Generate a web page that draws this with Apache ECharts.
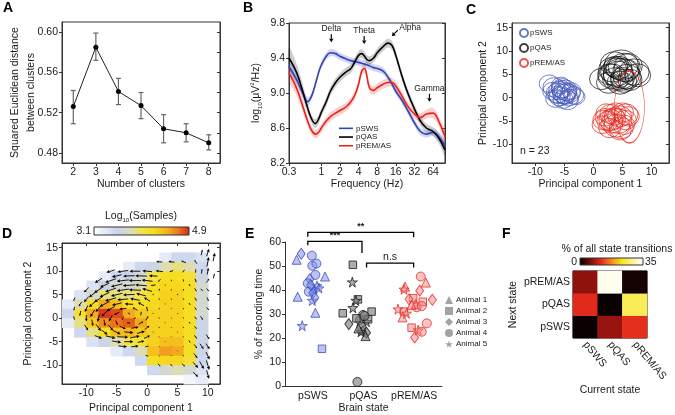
<!DOCTYPE html>
<html><head><meta charset="utf-8">
<script src="https://cdn.jsdelivr.net/npm/echarts@6/dist/echarts.min.js"></script>
<style>html,body{margin:0;padding:0;background:#fff}#c{width:675px;height:415px}</style>
</head><body><div id="c"></div>
<script>
// ---------- A ----------
const aClusters = [2,3,4,5,6,7,8];
const aMean = [0.526,0.585,0.541,0.527,0.504,0.500,0.490];
const aLow  = [0.509,0.572,0.528,0.514,0.490,0.491,0.483];
const aHigh = [0.542,0.599,0.554,0.540,0.518,0.509,0.498];
const aYTicks = [0.48,0.52,0.56,0.60];
const aYMinor = [0.48,0.50,0.52,0.54,0.56,0.58,0.60];
// ---------- B ----------
const bFreq = [0.3,0.4,0.5,0.6,0.7,0.8,0.9,1,1.2,1.4,1.7,2,2.5,3,3.5,4,4.5,5,5.5,6,7,8,10,12,14,16,20,25,32,40,50,64,80,100];
const bSWS = [9.30,9.15,9.00,8.90,8.97,9.10,9.23,9.32,9.42,9.46,9.45,9.42,9.39,9.37,9.36,9.35,9.34,9.33,9.32,9.31,9.29,9.28,9.25,9.18,9.10,9.02,8.92,8.80,8.66,8.56,8.53,8.55,8.50,8.40];
const bQAS = [9.40,9.23,9.02,8.83,8.70,8.65,8.70,8.78,8.90,9.02,9.12,9.18,9.24,9.28,9.36,9.43,9.45,9.42,9.38,9.37,9.40,9.46,9.53,9.57,9.54,9.43,9.20,9.00,8.82,8.68,8.60,8.56,8.48,8.35];
const bREM = [9.23,9.05,8.85,8.68,8.57,8.53,8.55,8.60,8.68,8.73,8.77,8.80,8.84,8.90,8.98,9.10,9.25,9.28,9.18,9.06,9.03,9.06,9.10,9.12,9.12,9.08,8.97,8.85,8.76,8.72,8.76,8.77,8.67,8.50];
const bSWSErr = [0.07,0.06,0.05,0.05,0.04,0.04,0.04,0.04,0.04,0.04,0.04,0.04,0.04,0.04,0.04,0.04,0.04,0.04,0.04,0.04,0.04,0.04,0.04,0.04,0.04,0.04,0.04,0.04,0.04,0.04,0.04,0.04,0.05,0.06];
const bQASErr = [0.12,0.10,0.08,0.06,0.05,0.05,0.05,0.05,0.05,0.05,0.05,0.05,0.05,0.05,0.05,0.05,0.05,0.05,0.05,0.05,0.05,0.05,0.05,0.05,0.05,0.05,0.05,0.05,0.05,0.05,0.05,0.05,0.06,0.07];
const bREMErr = [0.09,0.08,0.07,0.06,0.05,0.05,0.05,0.05,0.05,0.05,0.05,0.05,0.05,0.05,0.05,0.05,0.05,0.05,0.05,0.05,0.05,0.05,0.05,0.05,0.05,0.05,0.05,0.05,0.05,0.05,0.05,0.06,0.06,0.07];
const bXTicks = [0.3,1,2,4,8,16,32,64];
const bYTicks = [8.2,8.6,9.0,9.4,9.8];
const bAnnLabel = ['Delta','Theta','Alpha','Gamma'];
const bAnnFreq = [1.45,4.93,13.8,56];
const bAnnValue = [9.58,9.56,9.65,8.90];
const bAnnTilt = [0,0,1,0];
// ---------- C ----------
const cSWS = [[-7.6,3.0,20],[-6.8,2.2,22],[-5.5,1.8,20],[-5.0,0.8,22],[-4.6,1.2,20],[-5.8,0.2,21],[-4.2,0.0,19],[-3.4,0.5,20],[-6.2,1.0,22],[-5.2,-0.4,20],[-4.8,1.6,23],[-3.8,1.4,19],[-6.5,-0.2,20],[-5.6,2.6,19],[-4.4,-0.6,21],[-3.0,0.2,18],[-7.0,1.4,20],[-5.9,1.5,21],[-4.9,0.3,19],[-5.3,2.0,22],[-6.1,0.6,20],[-4.0,0.9,20],[-5.0,1.0,24]];
const cQAS = [[4.3,5.0,30],[3.3,6.0,28],[5.3,6.5,32],[3.8,4.0,26],[5.8,4.5,28],[1.4,4.0,24],[4.8,7.0,34],[2.8,5.0,24],[7.0,5.5,30],[4.6,3.2,26],[5.6,5.8,26],[3.6,7.2,28],[6.3,3.8,24],[4.0,5.5,32],[5.0,4.2,24],[7.6,4.8,26],[2.6,3.2,24],[4.4,6.4,26],[3.2,4.6,28],[6.0,6.8,28],[5.2,3.6,26],[3.8,6.6,24],[4.8,5.0,36]];
const cREM = [[3.5,-4.5,24],[2.5,-5.0,22],[4.5,-4.0,24],[3.0,-3.5,22],[5.5,-4.8,22],[2.0,-4.2,20],[4.0,-6.0,26],[3.2,-5.5,22],[5.0,-3.2,22],[1.5,-5.8,20],[4.8,-6.5,24],[3.8,-3.0,20],[2.8,-6.5,22],[6.0,-4.0,22],[4.2,-5.0,28],[3.0,-4.8,24],[5.2,-5.8,22],[2.2,-3.2,20],[4.6,-7.0,22],[3.6,-4.0,20],[1.8,-4.8,22],[5.6,-3.6,24],[6.2,-2.0,30,72]];
const pcTicksX = [-10,-5,0,5,10];
const pcTicksY = [-10,-5,0,5,10,15];
// ---------- D ----------
const dBinX = [-13,-11,-9,-7,-5,-3,-1,1,3,5,7,9,11];
const dBinY = [15,13,11,9,7,5,3,1,-1,-3,-5,-7,-9,-11,-13];
const n = null;
const dDensity = [
 [n,n,n,n,n,n,n,n,n,n,n,n,n],
 [n,n,n,n,n,n,n,n,3.3,3.5,3.5,3.4,n],
 [n,n,n,n,n,3.3,3.5,3.6,3.8,3.9,3.8,3.5,n],
 [n,n,n,3.3,3.5,3.6,3.7,4.0,4.2,4.2,4.1,3.6,n],
 [n,n,3.4,3.6,3.7,3.7,3.8,4.2,4.25,4.25,4.2,3.7,n],
 [n,3.4,3.7,3.9,3.9,3.9,4.0,4.2,4.3,4.3,4.2,3.7,n],
 [3.3,3.8,4.2,4.5,4.4,4.2,4.2,4.25,4.3,4.3,4.2,3.7,n],
 [3.5,4.1,4.5,4.85,4.8,4.5,4.35,4.3,4.3,4.3,4.2,3.7,n],
 [3.3,3.9,4.35,4.6,4.7,4.75,4.5,4.3,4.3,4.3,4.2,3.6,n],
 [n,3.5,3.9,4.2,4.4,4.45,4.35,4.3,4.3,4.3,4.2,3.6,n],
 [n,n,3.4,3.6,3.8,4.0,4.1,4.3,4.4,4.4,4.2,3.6,n],
 [n,n,n,n,3.3,3.5,3.8,4.4,4.55,4.5,4.2,3.6,n],
 [n,n,n,n,n,n,3.5,4.2,4.25,4.25,4.1,3.5,n],
 [n,n,n,n,n,n,n,3.5,3.7,3.8,3.7,3.4,n],
 [n,n,n,n,n,n,n,n,n,n,3.2,3.3,n]
];
const dArrows = [
 [9,14,0.2,1.2],[10,14,0.4,1.6],[11,13,0.3,1.8],[11,9,0.2,1.0],
 [2,12,-1.0,0.1],[4,12,-1.0,0.2],[6,12,-0.8,0.4],[8,12,-0.4,0.8],[10,12,0.3,2.0],
 [-6,10,-1.4,-0.6],[-4,10,-1.8,-0.3],[-2,10,-1.8,0],[0,10,-1.6,0.2],[2,10,-1.2,0.2],[4,10,-0.6,-0.3],[6,10,-0.3,-0.6],[8,10,0,-0.8],[10,10,0.2,1.4],
 [-5,9,-1.6,-0.5],[-3,9,-1.9,-0.1],[-1,9,-1.9,0.1],[1,9,-1.4,0.1],[9,10,0.1,1.0],
 [-8,8,-1.2,-1.0],[-6,8,-1.8,-0.8],[-4,8,-2,-0.3],[-2,8,-2,0],[0,8,-1.8,0.3],[2,8,-0.4,-0.6],[4,8,0,-0.4],[6,8,0.1,-0.5],[8,8,0.2,-0.8],[10,8,0.5,0.8],
 [-7,7,-1.5,-0.9],[-5,7,-1.9,-0.6],[-3,7,-2,-0.2],[-1,7,-1.9,0.2],[1,7,-0.8,-0.2],[3,7,0.05,-0.3],[7,7,0.2,-0.5],
 [-10,6,-0.8,-1.0],[-8,6,-1.4,-1.2],[-6,6,-1.8,-0.8],[-4,6,-2,-0.4],[-2,6,-2,0.1],[0,6,-1.6,0.6],[2,6,0,-0.5],[4,6,0.05,-0.3],[6,6,0.1,-0.4],[8,6,0.3,-0.7],[10,6,0.4,-0.6],[9,6,0.3,-0.5],
 [-9,5,-1.1,-1.1],[-7,5,-1.6,-1.0],[-5,5,-1.9,-0.6],[-3,5,-1.9,-0.1],[-1,5,-1.6,0.5],[1,5,0,-0.35],[5,5,0.05,-0.3],
 [-12,4,-0.3,-0.8],[-10,4,-0.8,-1.2],[-8,4,-1.4,-1.2],[-6,4,-1.8,-0.7],[-4,4,-1.8,-0.2],[-2,4,-1.6,0.4],[0,4,-1,0.8],[2,4,0.05,-0.4],[4,4,0.05,-0.3],[6,4,0.1,-0.4],[8,4,0.3,-0.7],[10,4,0.3,-0.8],
 [-11,3,-0.5,-1.0],[-9,3,-1.1,-1.3],[-7,3,-1.6,-1.1],[-5,3,-1.6,-0.5],[-3,3,-1.4,0.1],[-1,3,-1.0,0.7],[3,3,0.05,-0.25],[7,3,0.2,-0.5],
 [-12,2,-0.1,-0.8],[-10,2,-0.5,-1.4],[-8,2,-1,-1.4],[-6,2,-1.4,-1],[-4,2,-1.2,-0.2],[-2,2,-0.8,0.6],[0,2,-0.2,1.0],[2,2,0.05,-0.3],[4,2,0.05,-0.2],[6,2,0.1,-0.3],[8,2,0.3,-0.6],[10,2,0.4,-0.6],
 [-11,1,-0.2,-1.1],[-9,1,-0.7,-1.5],[-7,1,-1.0,-1.3],[-5,1,-0.9,-0.6],[-3,1,-0.4,0.3],[-1,1,0.1,0.8],[1,1,0.05,-0.25],[5,1,0.05,-0.2],
 [-12,0,0.2,-0.8],[-10,0,0,-1.4],[-8,0,-0.3,-1.6],[-6,0,-0.6,-1.4],[-4,0,-0.3,-0.8],[-2,0,0.4,0.2],[0,0,0.4,0.9],[2,0,0.1,-0.3],[4,0,0.05,-0.2],[6,0,0.1,-0.3],[8,0,0.3,-0.6],[9,0,0.4,-0.8],
 [-9,-1,0.2,-1.4],[-7,-1,0.2,-1.4],[-5,-1,0.3,-1.0],[-3,-1,0.6,-0.1],[-1,-1,0.8,0.6],[3,-1,0.05,-0.2],[7,-1,0.2,-0.4],
 [-10,-2,0.6,-1.2],[-8,-2,0.8,-1.4],[-6,-2,0.8,-1.2],[-4,-2,1.0,-0.6],[-2,-2,1.2,0.3],[0,-2,0.8,0.8],[2,-2,0.1,-0.3],[4,-2,0.05,-0.2],[6,-2,0.1,-0.3],[8,-2,0.4,-0.6],
 [-7,-3,1.0,-1.0],[-5,-3,1.3,-0.8],[-3,-3,1.5,-0.2],[-1,-3,1.3,0.5],[1,-3,0.05,-0.2],[5,-3,0.05,-0.2],
 [-8,-4,1.2,-0.6],[-6,-4,1.6,-0.5],[-4,-4,1.8,-0.1],[-2,-4,1.6,0.4],[0,-4,1.0,0.6],[2,-4,0.1,-0.2],[4,-4,0.05,-0.15],[6,-4,0.1,-0.25],[8,-4,0.4,-0.7],[10,-4,0.5,-1.0],
 [-5,-5,1.5,-0.3],[-3,-5,1.5,0.0],[-1,-5,1.1,0.3],[3,-5,0.05,-0.15],[7,-5,0.25,-0.5],
 [-4,-6,1.4,-0.2],[-2,-6,1.2,0.2],[0,-6,0.6,0.2],[2,-6,0.1,-0.15],[4,-6,0.05,-0.1],[6,-6,0.1,-0.2],[8,-6,0.5,-0.8],[10,-6,0.6,-1.2],[9,-6,0.6,-1.1],
 [5,-7,0.05,-0.15],
 [0,-8,0.5,-0.2],[2,-8,0.2,-0.2],[4,-8,0.1,-0.2],[6,-8,0.2,-0.3],[8,-8,0.6,-1.0],[10,-8,0.6,-1.6],
 [2,-10,0.4,-0.6],[4,-10,0.3,-0.5],[6,-10,0.5,-0.6],[8,-10,0.8,-1.2],[10,-10,0.5,-2.0],[9,-10,0.7,-1.6],
 [8,-12,0.8,-1.0],[10,-12,0.4,-1.8]
];
const dScaleLabels = ['3.1','4.9'];
// ---------- E ----------
const eStates = ['pSWS','pQAS','pREM/AS'];
const eAnimals = ['Animal 1','Animal 2','Animal 3','Animal 4','Animal 5'];
const eSWS = [[-0.23,55.1,3],[-0.32,52.6,1],[-0.02,54.3,4],[-0.01,50.1,4],[0.07,51.0,4],[0.05,46.3,4],[0.24,45.6,1],[-0.06,44.5,3],[-0.10,42.8,4],[0.08,41.7,5],[0.02,40.3,5],[-0.08,39.3,4],[0.0,38.7,3],[-0.30,37.2,1],[-0.01,35.6,5],[0.05,30.5,1],[-0.21,25.1,5],[0.18,15.5,2],[-0.04,42.0,3],[0.04,36.8,3],[0.12,40.8,5]];
const eQAS = [[0.79,50.5,2],[0.78,43.3,5],[0.89,36.1,2],[0.85,35.6,5],[0.79,32.6,5],[1.16,31.0,2],[0.59,30.3,2],[0.99,29.6,4],[0.93,27.5,4],[0.86,28.2,2],[1.06,26.8,5],[0.71,25.8,3],[0.99,23.3,1],[0.96,24.7,4],[1.06,22.2,3],[1.04,20.8,1],[0.95,22.6,5],[0.88,1.7,4],[1.09,27.8,2],[0.90,24.0,1],[1.02,29.2,4]];
const eREM = [[1.82,41.4,1],[1.80,40.3,5],[2.13,45.6,4],[2.23,43.1,1],[2.11,39.7,3],[2.36,35.9,3],[1.98,36.6,2],[1.90,36.1,3],[2.17,35.1,2],[2.03,34.2,1],[2.05,32.8,4],[2.15,33.3,4],[1.95,33.8,1],[1.68,32.0,5],[1.80,31.0,2],[1.77,28.6,1],[1.85,30.3,5],[1.95,24.3,2],[2.01,20.2,3],[2.08,23.3,5],[2.15,22.6,4],[2.25,26.1,4]];
const eBrackets = [[-0.1,0.97,60.3,58.6,55.4],[-0.1,1.99,64.0,62.2,62.0],[1.06,1.99,51.2,49.4,49.4]];
const eBracketLabels = ['***','**','n.s'];
// ---------- F ----------
const fStates = ['pSWS','pQAS','pREM/AS'];
const fMatrix = [ // rows: next state (pSWS, pQAS, pREM/AS); cols: current state
 [0.5, 7.5, 12.2],
 [11.8, 0.5, 26],
 [7, 34, 1]
];
const fScaleLabels = ['0','35'];

// ---------- build ----------
const FONT = '"Liberation Sans", Arial, sans-serif';
const TXT = '#1a1a1a';
const dColors = ['#ffffff','#e4e9f6','#c8d3ee','#d9dcc2','#f3e34a','#f6dd1e','#f5b81e','#ee7c1c','#d7261c'];
const fColors = ['#000000','#7a0d0a','#e3271b','#f38b1c','#f8e71e','#fbf39a','#ffffff'];
const axisLine = {show:true, onZero:false, lineStyle:{color:'#333', width:1}};
function baseAxis(extra){
  return Object.assign({
    axisLine: axisLine,
    axisTick: {show:true, length:3, lineStyle:{color:'#333'}},
    axisLabel: {color:TXT, fontSize:10.5, margin:4},
    splitLine: {show:false},
    nameLocation:'middle',
    nameTextStyle:{color:TXT, fontSize:10.5}
  }, extra);
}
function mirrorY(grid, min, max, ticks){
  return {type:'value', gridIndex:grid, position:'right', min:min, max:max,
    axisLine:axisLine, axisTick:{show:true, inside:true, length:3, customValues:ticks, lineStyle:{color:'#333'}},
    axisLabel:{show:false}, splitLine:{show:false}};
}
function gradient(colors){
  return new echarts.graphic.LinearGradient(0,0,1,0, colors.map((c,i)=>({offset:i/(colors.length-1), color:c})));
}
const starPath = 'path://M50,0 L61,35 L98,35 L68,57 L79,91 L50,70 L21,91 L32,57 L2,35 L39,35 Z';
const eSymbols = ['triangle','rect','diamond','circle',starPath];
const eSizes = [9,7.5,[8,11],9,10];
const stateColors = {
  sws:{fill:'rgba(125,142,228,0.65)', line:'#3f4fbf'},
  qas:{fill:'rgba(125,125,125,0.8)', line:'#1a1a1a'},
  rem:{fill:'rgba(247,130,130,0.6)', line:'#e52a22'}
};
function ePoints(arr){
  return arr.map(p => ({value:[p[0],p[1]], symbol:eSymbols[p[2]-1], symbolSize:eSizes[p[2]-1]}));
}
function bandSeries(vals, errs, color){
  return {type:'custom', xAxisIndex:1, yAxisIndex:1, silent:true, z:1,
    data: bFreq.map((f,i)=>[f, vals[i]-errs[i], vals[i]+errs[i]]),
    renderItem:(p, api)=>{
      if (p.dataIndex !== 0) return null;
      const up = bFreq.map((f,i)=>api.coord([f, vals[i]+errs[i]]));
      const lo = bFreq.map((f,i)=>api.coord([f, vals[i]-errs[i]])).reverse();
      return {type:'polygon', shape:{points: up.concat(lo), smooth:0.35}, style:{fill:color}};
    }};
}
const dCells = [];
dBinY.forEach((y,r)=>dBinX.forEach((x,c)=>{ const v=dDensity[r][c]; if(v!==null) dCells.push([x,y,v]); }));
const fData = [];
fMatrix.forEach((row,r)=>row.forEach((v,c)=>fData.push([c,r,v])));

function circleSeries(name, arr, color){
  return {type:'scatter', name:name, xAxisIndex:2, yAxisIndex:2, data:arr, symbol:'circle',
    symbolSize: v => [v[2], v[3] || v[2]*0.88],
    itemStyle:{color:'transparent', borderColor:color, borderWidth:0.9}, silent:true};
}
function lineSeries(name, vals, color){
  return {type:'line', name:name, xAxisIndex:1, yAxisIndex:1, data:bFreq.map((f,i)=>[f,vals[i]]), smooth:0.4,
    symbol:'none', lineStyle:{color:color, width:1.6}, itemStyle:{color:color}, z:3};
}

const series = [
  // 0 A line
  {type:'line', xAxisIndex:0, yAxisIndex:0, data:aClusters.map((x,i)=>[x,aMean[i]]), symbol:'circle', symbolSize:5,
   itemStyle:{color:'#000'}, lineStyle:{color:'#222', width:1}, z:4},
  // 1 A error bars
  {type:'custom', xAxisIndex:0, yAxisIndex:0, data:aClusters.map((x,i)=>[x,aLow[i],aHigh[i]]), z:3,
   renderItem:(p,api)=>{ const lo=api.coord([api.value(0),api.value(1)]), hi=api.coord([api.value(0),api.value(2)]);
     const st={stroke:'#666', lineWidth:1.2};
     return {type:'group', children:[
       {type:'line', shape:{x1:lo[0],y1:lo[1],x2:hi[0],y2:hi[1]}, style:st},
       {type:'line', shape:{x1:lo[0]-2.5,y1:lo[1],x2:lo[0]+2.5,y2:lo[1]}, style:st},
       {type:'line', shape:{x1:hi[0]-2.5,y1:hi[1],x2:hi[0]+2.5,y2:hi[1]}, style:st}]}; }},
  // 2-4 B bands
  bandSeries(bQAS, bQASErr, 'rgba(0,0,0,0.2)'),
  bandSeries(bSWS, bSWSErr, 'rgba(70,90,210,0.25)'),
  bandSeries(bREM, bREMErr, 'rgba(235,50,40,0.22)'),
  // 5-7 B lines
  lineSeries('pSWS', bSWS, '#3444b0'),
  lineSeries('pQAS', bQAS, '#000000'),
  lineSeries('pREM/AS', bREM, '#e8231d'),
  // 8 B annotations
  {type:'custom', xAxisIndex:1, yAxisIndex:1, clip:false, z:5, data:bAnnFreq.map((f,i)=>[f,bAnnValue[i]]),
   renderItem:(p,api)=>{ const i=p.dataIndex; const tip=api.coord([api.value(0),api.value(1)]);
     const tilt=bAnnTilt[i]; const tail= tilt ? [tip[0]+6,tip[1]-6] : [tip[0],tip[1]-8];
     const dx=tip[0]-tail[0], dy=tip[1]-tail[1], L=Math.hypot(dx,dy), ux=dx/L, uy=dy/L, h=3.5, w=2.2;
     const b=[tip[0]-ux*h, tip[1]-uy*h];
     const txt = tilt ? {type:'text', style:{text:bAnnLabel[i], x:tail[0]+1.5, y:tail[1]-2, align:'left', verticalAlign:'middle', fontSize:8.5, fill:TXT, fontFamily:FONT}}
                      : {type:'text', style:{text:bAnnLabel[i], x:tail[0], y:tail[1]-1, align:'center', verticalAlign:'bottom', fontSize:8.5, fill:TXT, fontFamily:FONT}};
     return {type:'group', children:[
       {type:'line', shape:{x1:tail[0],y1:tail[1],x2:b[0],y2:b[1]}, style:{stroke:'#000', lineWidth:1.2}},
       {type:'polygon', shape:{points:[tip,[b[0]-uy*w,b[1]+ux*w],[b[0]+uy*w,b[1]-ux*w]]}, style:{fill:'#000'}},
       txt]}; }},
  // 9-11 C circles
  circleSeries('C pSWS', cSWS, '#4254b8'),
  circleSeries('C pQAS', cQAS, '#111111'),
  circleSeries('C pREM/AS', cREM, '#e8281e'),
  // 12 D heatmap
  {type:'custom', xAxisIndex:3, yAxisIndex:3, data:dCells, encode:{x:0,y:1}, z:1, silent:true,
   renderItem:(p,api)=>{ const x=api.value(0), y=api.value(1); const p0=api.coord([x-1,y+1]), p1=api.coord([x+1,y-1]);
     return {type:'rect', shape:{x:p0[0],y:p0[1],width:p1[0]-p0[0]+0.6,height:p1[1]-p0[1]+0.6}, style:{fill:api.visual('color')}}; }},
  // 13 D arrows
  {type:'custom', xAxisIndex:3, yAxisIndex:3, data:dArrows, encode:{x:0,y:1}, z:2, silent:true,
   renderItem:(p,api)=>{ const x=api.value(0), y=api.value(1), u=api.value(2), v=api.value(3);
     const p0=api.coord([x-u/2,y-v/2]), p1=api.coord([x+u/2,y+v/2]);
     const dx=p1[0]-p0[0], dy=p1[1]-p0[1]; const L=Math.hypot(dx,dy)||1; const ux=dx/L, uy=dy/L;
     const h=Math.min(3.2, L*0.4), w=h*0.5; const b=[p1[0]-ux*h, p1[1]-uy*h];
     return {type:'group', children:[
       {type:'line', shape:{x1:p0[0],y1:p0[1],x2:b[0],y2:b[1]}, style:{stroke:'#000', lineWidth:0.9}},
       {type:'polygon', shape:{points:[p1,[b[0]-uy*w,b[1]+ux*w],[b[0]+uy*w,b[1]-ux*w]]}, style:{fill:'#000'}}]}; }},
  // 14-16 E points
  {type:'scatter', name:'e1', xAxisIndex:4, yAxisIndex:4, data:ePoints(eSWS), itemStyle:{color:stateColors.sws.fill, borderColor:stateColors.sws.line, borderWidth:1}},
  {type:'scatter', name:'e2', xAxisIndex:4, yAxisIndex:4, data:ePoints(eQAS), itemStyle:{color:stateColors.qas.fill, borderColor:stateColors.qas.line, borderWidth:1}},
  {type:'scatter', name:'e3', xAxisIndex:4, yAxisIndex:4, data:ePoints(eREM), itemStyle:{color:stateColors.rem.fill, borderColor:stateColors.rem.line, borderWidth:1}},
  // 17 E brackets
  {type:'custom', xAxisIndex:4, yAxisIndex:4, clip:false, data:eBrackets,
   renderItem:(p,api)=>{ const x1=api.value(0), x2=api.value(1), yt=api.value(2), yl=api.value(3), yr=api.value(4);
     const a=api.coord([x1,yl]), b=api.coord([x1,yt]), c=api.coord([x2,yt]), d=api.coord([x2,yr]);
     const lab=eBracketLabels[p.dataIndex];
     return {type:'group', children:[
       {type:'polyline', shape:{points:[a,b,c,d]}, style:{stroke:'#000', lineWidth:1.3, fill:null}},
       {type:'text', style:{text:lab, x:(b[0]+c[0])/2, y:b[1]-1, align:'center', verticalAlign:'bottom', fontSize:lab==='n.s'?10.5:9, fontWeight: lab==='n.s'?'normal':'bold', fill:TXT, fontFamily:FONT}}]}; }},
  // 18-22 E legend entries
  ...eAnimals.map((nm,i)=>({type:'scatter', name:nm, xAxisIndex:4, yAxisIndex:4, data:[], symbol:eSymbols[i], itemStyle:{color:'#8c8c8c'}})),
  // 23 F heatmap
  {type:'heatmap', xAxisIndex:5, yAxisIndex:5, data:fData, silent:true}
];

const option = {
  animation:false,
  textStyle:{fontFamily:FONT},
  grid:[
    {left:62, top:22, width:158, height:141, show:true, borderColor:'#333', borderWidth:1},
    {left:289, top:23, width:156, height:140, show:true, borderColor:'#333', borderWidth:1},
    {left:512, top:23, width:157, height:140, show:true, borderColor:'#333', borderWidth:1},
    {left:62, top:243, width:158, height:141, show:true, borderColor:'#333', borderWidth:1},
    {left:285, top:242, width:157, height:144},
    {left:573, top:271, width:74, height:67, show:true, borderColor:'#000', borderWidth:1}
  ],
  xAxis:[
    baseAxis({type:'value', gridIndex:0, min:1.5, max:8.5, name:'Number of clusters', nameGap:15,
      axisTick:{show:true,length:3,customValues:aClusters,lineStyle:{color:'#333'}}, axisLabel:{color:TXT,fontSize:10.5,margin:4,customValues:aClusters}}),
    baseAxis({type:'log', logBase:10, gridIndex:1, min:0.3, max:100, name:'Frequency (Hz)', nameGap:15,
      axisTick:{show:true,length:3,customValues:bXTicks,lineStyle:{color:'#333'}}, axisLabel:{color:TXT,fontSize:10.5,margin:4,customValues:bXTicks, formatter:v=>String(Math.round(v*10)/10)}}),
    baseAxis({type:'value', gridIndex:2, min:-14, max:13, name:'Principal component 1', nameGap:15,
      axisTick:{show:true,length:3,customValues:pcTicksX,lineStyle:{color:'#333'}}, axisLabel:{color:TXT,fontSize:10.5,margin:4,customValues:pcTicksX}}),
    baseAxis({type:'value', gridIndex:3, min:-14, max:12, name:'Principal component 1', nameGap:19,
      axisTick:{show:true,length:3,customValues:pcTicksX,lineStyle:{color:'#333'}}, axisLabel:{color:TXT,fontSize:10.5,margin:4,customValues:pcTicksX}}),
    baseAxis({type:'value', gridIndex:4, min:-0.55, max:2.55, name:'Brain state', nameGap:17,
      axisTick:{show:false}, axisLabel:{color:TXT,fontSize:10.5,margin:5,customValues:[0,1,2], formatter:v=>eStates[Math.round(v)]}}),
    {type:'category', gridIndex:5, data:fStates, name:'Current state', nameLocation:'middle', nameGap:45,
      nameTextStyle:{color:TXT,fontSize:10.5}, axisLine:{show:false}, axisTick:{show:false},
      axisLabel:{color:TXT, fontSize:10.5, rotate:-50, margin:5}},
    {type:'value', gridIndex:3, position:'top', min:-14, max:12, axisLine:axisLine,
      axisTick:{show:true, inside:true, length:3, customValues:pcTicksX, lineStyle:{color:'#333'}}, axisLabel:{show:false}, splitLine:{show:false}}
  ],
  yAxis:[
    baseAxis({type:'value', gridIndex:0, min:0.47, max:0.61, name:'Squared Euclidean distance\nbetween clusters', nameGap:23, nameMoveOverlap:false,
      nameTextStyle:{color:TXT,fontSize:10.5,lineHeight:16},
      axisTick:{show:true,length:3,customValues:aYTicks,lineStyle:{color:'#333'}}, axisLabel:{color:TXT,fontSize:10.5,margin:4,customValues:aYTicks, formatter:v=>v.toFixed(2)}}),
    baseAxis({type:'value', gridIndex:1, min:8.2, max:9.8, name:'{a|log}{s|10}{a|(μV}{p|2}{a|/Hz)}', nameGap:26,
      nameTextStyle:{color:TXT, rich:{a:{fontSize:10.5,lineHeight:14,color:TXT}, s:{fontSize:6,lineHeight:14,verticalAlign:'bottom',color:TXT}, p:{fontSize:6,lineHeight:14,verticalAlign:'top',color:TXT}}},
      axisTick:{show:true,length:3,customValues:bYTicks,lineStyle:{color:'#333'}}, axisLabel:{color:TXT,fontSize:10.5,margin:4,customValues:bYTicks, formatter:v=>v.toFixed(1)}}),
    baseAxis({type:'value', gridIndex:2, min:-14, max:16, name:'Principal component 2', nameGap:23,
      axisTick:{show:true,length:3,customValues:pcTicksY,lineStyle:{color:'#333'}}, axisLabel:{color:TXT,fontSize:10.5,margin:4,customValues:pcTicksY}}),
    baseAxis({type:'value', gridIndex:3, min:-14, max:16, name:'Principal component 2', nameGap:28,
      axisTick:{show:true,length:3,customValues:pcTicksY,lineStyle:{color:'#333'}}, axisLabel:{color:TXT,fontSize:10.5,margin:4,customValues:pcTicksY}}),
    baseAxis({type:'value', gridIndex:4, min:0, max:60, interval:10, name:'% of recording time', nameGap:20}),
    {type:'category', gridIndex:5, data:fStates, name:'Next state', nameLocation:'middle', nameGap:54,
      nameTextStyle:{color:TXT,fontSize:10.5}, axisLine:{show:false}, axisTick:{show:false},
      axisLabel:{color:TXT, fontSize:10.5, margin:3}},
    mirrorY(0, 0.47, 0.61, aYMinor),
    mirrorY(1, 8.2, 9.8, bYTicks),
    mirrorY(2, -14, 16, pcTicksY),
    mirrorY(3, -14, 16, pcTicksY)
  ],
  legend:[
    {data:['pSWS','pQAS','pREM/AS'], icon:'rect', orient:'vertical', left:339, top:124, itemWidth:14, itemHeight:1.6, itemGap:0, padding:0,
     selectedMode:false, textStyle:{fontSize:8, color:TXT, lineHeight:8.7, padding:[0,0,0,-2]}},
    {data:['C pSWS','C pQAS','C pREM/AS'], formatter:nm=>nm.slice(2), orient:'vertical', left:519, top:28, itemWidth:8, itemHeight:8, itemGap:5, padding:0,
     selectedMode:false, textStyle:{fontSize:8, color:TXT, padding:[0,0,0,-3]}},
    {data:eAnimals, orient:'vertical', left:445, top:296, itemWidth:8, itemHeight:8, itemGap:3, padding:0,
     selectedMode:false, textStyle:{fontSize:8, color:TXT, padding:[0,0,0,-2]}}
  ],
  visualMap:[
    {type:'continuous', show:false, seriesIndex:12, dimension:2, min:3.1, max:4.9, inRange:{color:dColors}},
    {type:'continuous', show:false, seriesIndex:23, dimension:2, min:0, max:35, inRange:{color:fColors}}
  ],
  graphic:[
    {type:'text', x:3, y:1, style:{text:'A', fontSize:14, fontWeight:'bold', fill:'#000', fontFamily:FONT}},
    {type:'text', x:243, y:1, style:{text:'B', fontSize:14, fontWeight:'bold', fill:'#000', fontFamily:FONT}},
    {type:'text', x:466, y:3, style:{text:'C', fontSize:14, fontWeight:'bold', fill:'#000', fontFamily:FONT}},
    {type:'text', x:2, y:227, style:{text:'D', fontSize:14, fontWeight:'bold', fill:'#000', fontFamily:FONT}},
    {type:'text', x:245, y:227, style:{text:'E', fontSize:14, fontWeight:'bold', fill:'#000', fontFamily:FONT}},
    {type:'text', x:502, y:227, style:{text:'F', fontSize:14, fontWeight:'bold', fill:'#000', fontFamily:FONT}},
    {type:'text', x:520, y:146, style:{text:'n = 23', fontSize:10.5, fill:TXT, fontFamily:FONT}},
    // D colour scale
    {type:'text', x:141, y:209, style:{text:'{a|Log}{s|10}{a|(Samples)}', align:'center', fontFamily:FONT,
      rich:{a:{fontSize:10.5,lineHeight:14,fill:TXT}, s:{fontSize:6,lineHeight:14,verticalAlign:'bottom',fill:TXT}}}},
    {type:'rect', shape:{x:94, y:227, width:95, height:8}, style:{fill:gradient(dColors), stroke:'#333', lineWidth:1}},
    {type:'text', x:91, y:231.5, style:{text:dScaleLabels[0], align:'right', verticalAlign:'middle', fontSize:10.5, fill:TXT, fontFamily:FONT}},
    {type:'text', x:192, y:231.5, style:{text:dScaleLabels[1], align:'left', verticalAlign:'middle', fontSize:10.5, fill:TXT, fontFamily:FONT}},
    // F colour scale
    {type:'text', x:617, y:244, style:{text:'% of all state transitions', align:'center', fontSize:10.5, fill:TXT, fontFamily:FONT}},
    {type:'rect', shape:{x:580, y:258, width:63, height:7}, style:{fill:gradient(fColors), stroke:'#333', lineWidth:1}},
    {type:'text', x:577, y:262, style:{text:fScaleLabels[0], align:'right', verticalAlign:'middle', fontSize:10.5, fill:TXT, fontFamily:FONT}},
    {type:'text', x:645, y:262, style:{text:fScaleLabels[1], align:'left', verticalAlign:'middle', fontSize:10.5, fill:TXT, fontFamily:FONT}}
  ],
  series: series
};
const chart = echarts.init(document.getElementById('c'), null, {renderer:'canvas'});
chart.setOption(option);
</script></body></html>
